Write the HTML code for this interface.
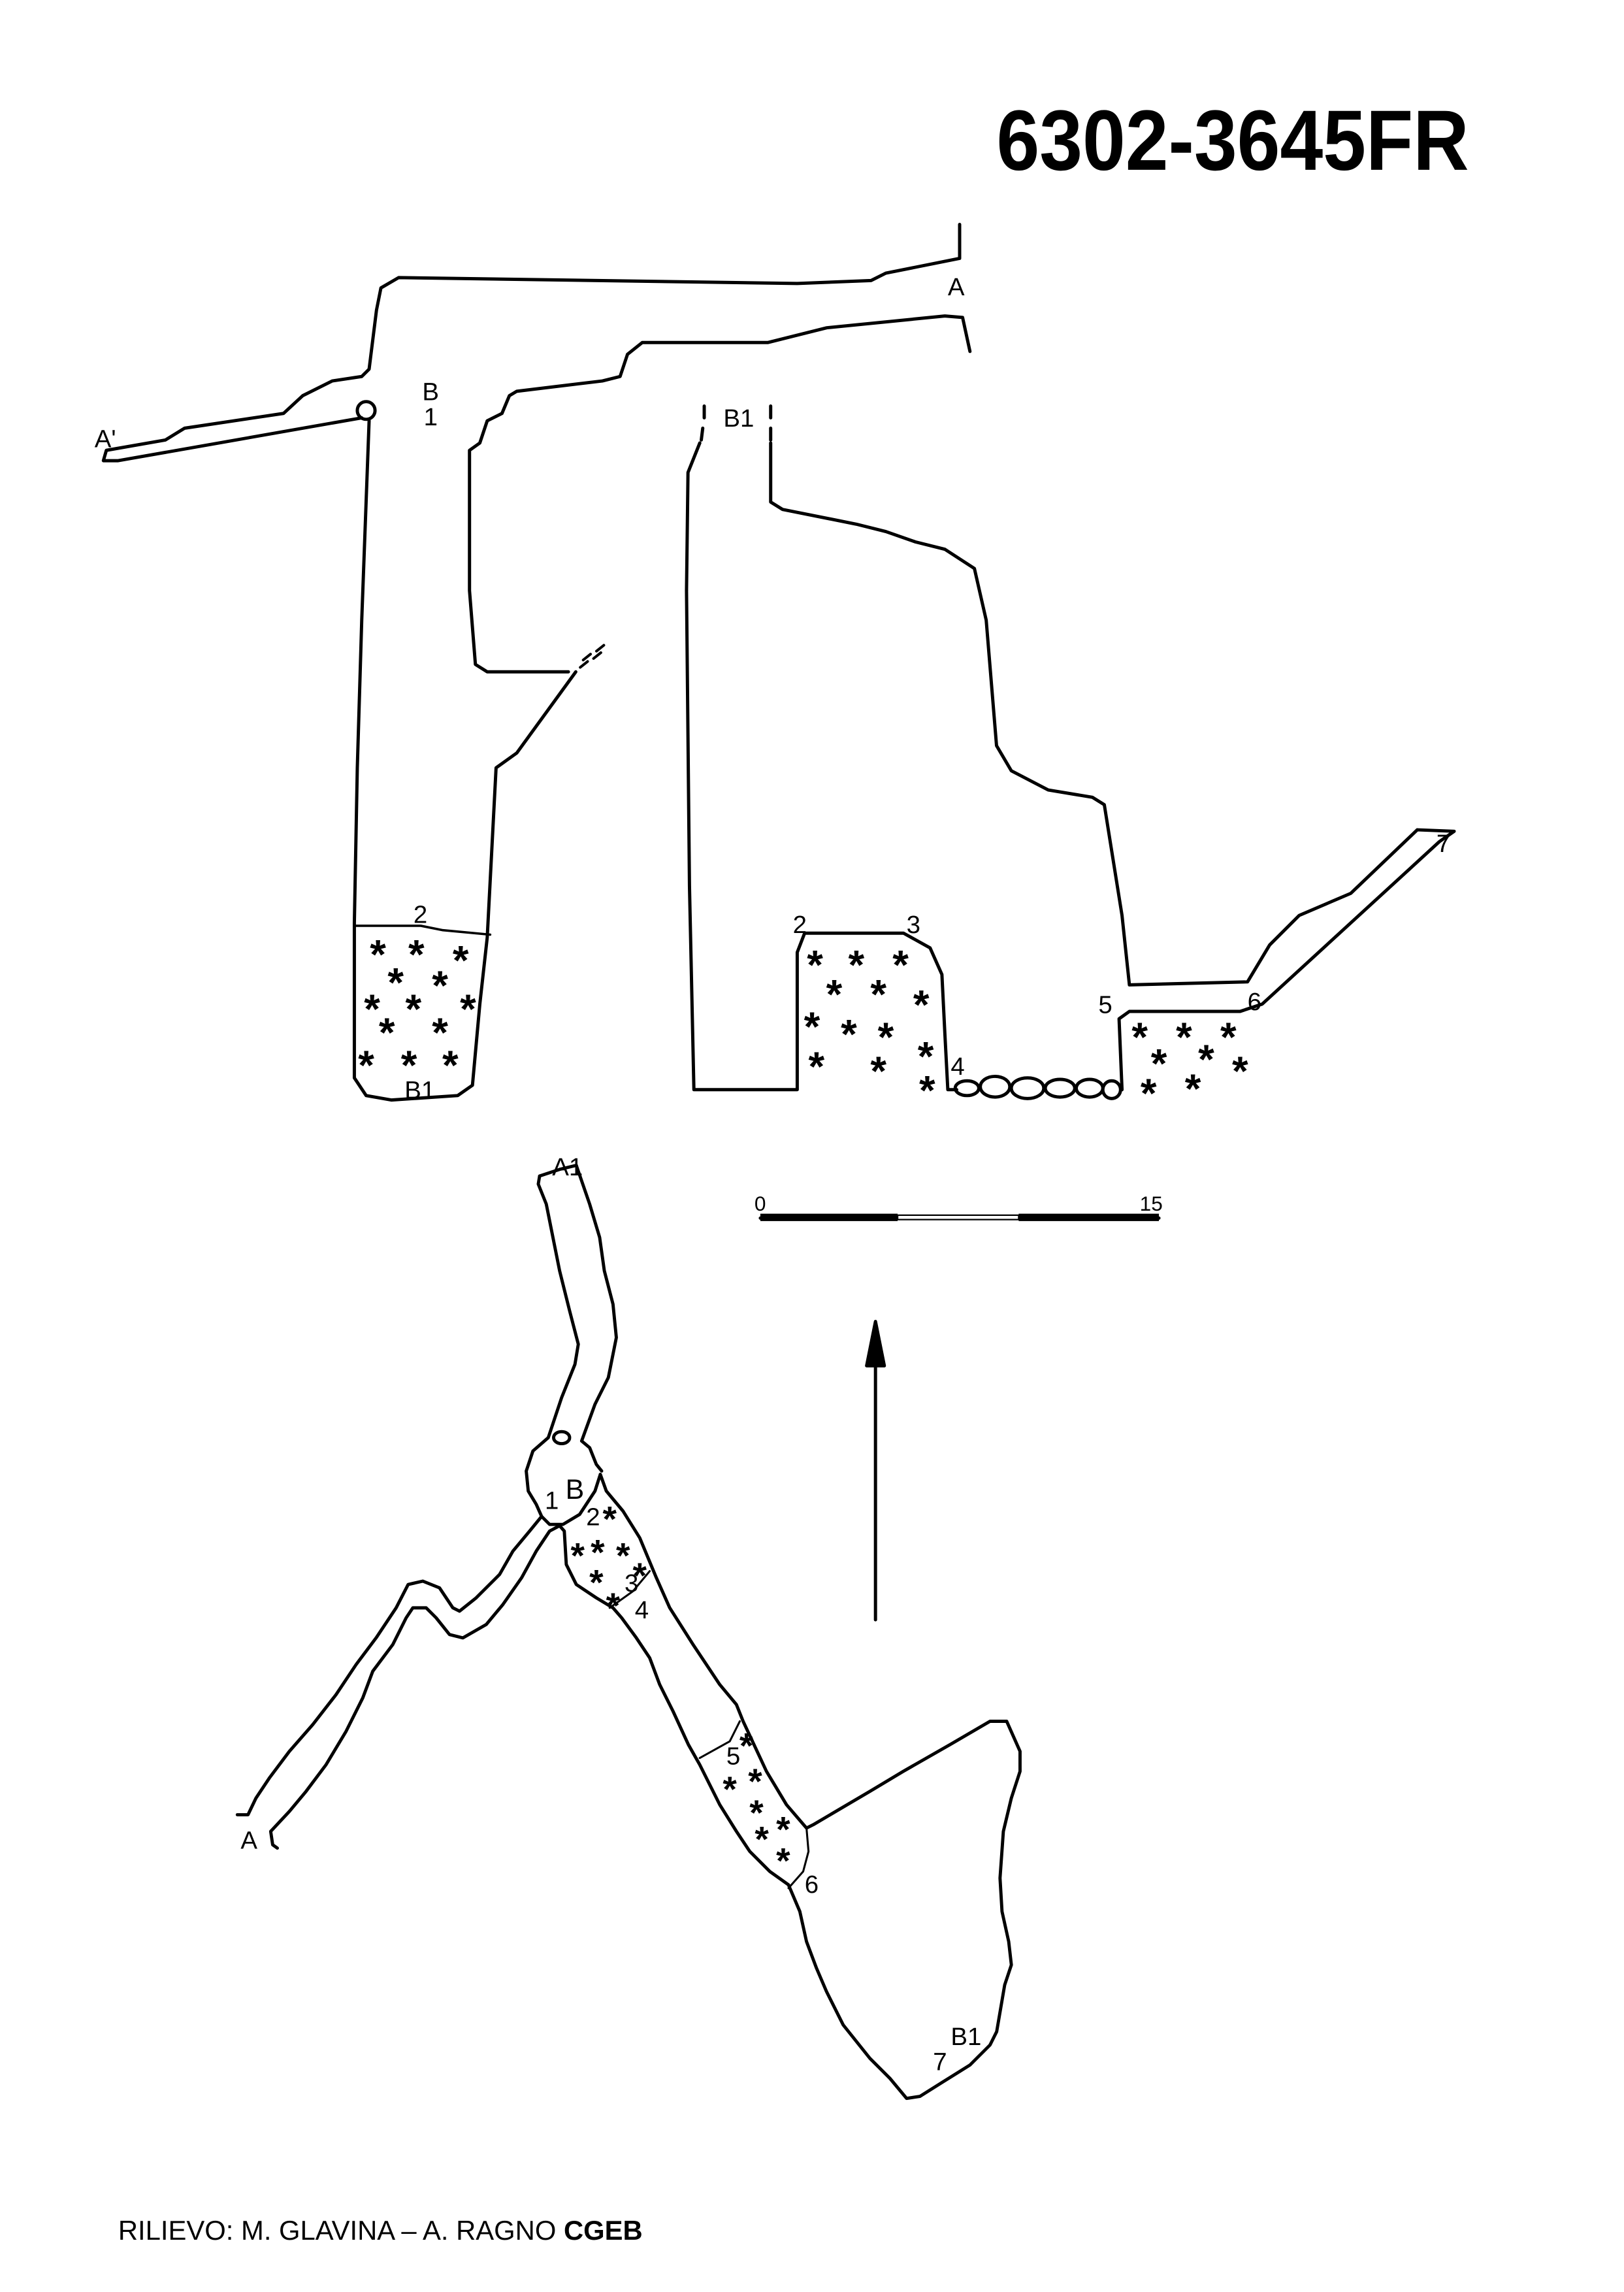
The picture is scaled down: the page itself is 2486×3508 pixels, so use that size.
<!DOCTYPE html>
<html><head><meta charset="utf-8"><style>
html,body{margin:0;padding:0;background:#fff;}
svg{display:block;}
text{font-family:"Liberation Sans",sans-serif;fill:#000;}
.h{font-family:"Liberation Sans",sans-serif;font-size:17px;}
</style></head><body>
<svg width="2486" height="3508" viewBox="0 0 1100 1552.3" xmlns="http://www.w3.org/2000/svg">
<rect width="1100" height="1552.3" fill="#fff"/>
<text x="675" y="115" font-size="58" font-weight="bold" textLength="320" lengthAdjust="spacingAndGlyphs">6302-3645FR</text>

<g fill="none" stroke="#000" stroke-width="2.2" stroke-linejoin="round" stroke-linecap="round">
<!-- left profile -->
<path d="M650,152 L650,175 L600,185 L590,190 L540,192 L270,188 L258,195 L255,210 L250,250 L245,255 L225,258 L205,268 L192,280 L125,290 L112,298 L72,305 L70,312 L80,312 L245,283"/>
<circle cx="248" cy="278" r="6"/>
<path d="M250,285 L245,420 L242,520 L240,625 L240,730 L248,742 L265,745 L310,742 L320,735 L325,680 L330,635 L336,520 L350,510 L390,455"/>
<path d="M657,238 L652,215 L640,214 L560,222 L520,232 L435,232 L425,240 L420,255 L408,258 L350,265 L345,268 L340,280 L330,285 L325,300 L318,305 L318,400 L322,450 L330,455 L385,455"/>
<path d="M393,452 L398,448 M402,446 L407,442 M395,447 L400,443 M404,441 L409,437" stroke-width="1.8"/>
<path d="M240,627 L285,627 L300,630 L332,633" stroke-width="1.6"/>

<!-- middle profile -->
<path d="M477,275 L477,283 M476,290 L475,298"/>
<path d="M522,275 L522,283 M522,290 L522,298"/>
<path d="M474,300 L466,320 L465,400 L467,600 L470,738 L540,738 L540,645 L545,632 L612,632 L630,642 L638,660 L640,700 L642,738 L648,738"/>
<path d="M760,738 L758,690 L765,685 L840,685 L855,680 L975,570 L985,563 L960,562 L915,605 L880,620 L860,640 L845,665 L765,667 L760,620 L748,545 L740,540 L710,535 L685,522 L675,505 L668,420 L660,385 L640,372 L620,367 L600,360 L580,355 L530,345 L522,340 L522,300"/>
<ellipse cx="655" cy="737" rx="8" ry="5"/>
<ellipse cx="674" cy="736" rx="10" ry="7"/>
<ellipse cx="696" cy="737" rx="11" ry="7"/>
<ellipse cx="718" cy="737" rx="10" ry="6"/>
<ellipse cx="738" cy="737" rx="9" ry="6"/>
<ellipse cx="753" cy="738" rx="6" ry="6"/>

<!-- scale bar -->
<path d="M515,825 L785,825"/>
<rect x="515" y="822" width="93" height="5" fill="#000" stroke="none"/>
<rect x="690" y="822" width="95" height="5" fill="#000" stroke="none"/>
<rect x="608" y="823" width="82" height="3" fill="#fff" stroke="#000" stroke-width="1"/>

<!-- north arrow -->
<path d="M593,1097 L593,905"/>
<path d="M587,925 L593,895 L599,925 Z" fill="#000"/>

<!-- plan -->
<g transform="translate(132.7,752.2) scale(0.452)" stroke-width="4.8">
<path d="M515,98 L545,88 L570,82"/>
<path d="M515,98 L513,110 L525,140 L545,240 L560,300 L573,350 L568,380 L548,430 L528,490 L505,510 L495,540 L498,570 L510,590 L518,608 L530,620 L550,620 L575,605 L598,570 L606,545"/>
<path d="M570,82 L590,140 L605,190 L612,240 L625,290 L630,340 L618,400 L598,440 L578,495 L590,505 L600,530 L608,540"/>
<ellipse cx="548" cy="490" rx="12" ry="9"/>
<path d="M606,545 L615,570 L640,600 L665,640 L690,700 L710,745 L745,800 L785,860 L810,890 L820,915 L855,990 L885,1040 L915,1075 L925,1070 L1010,1020 L1060,990 L1130,950 L1190,915 L1215,915 L1235,960 L1235,990 L1222,1030 L1210,1080 L1205,1150 L1208,1200 L1218,1245 L1222,1280 L1212,1310 L1200,1380 L1190,1400 L1160,1430 L1120,1455 L1085,1477 L1065,1480 L1040,1450 L1010,1420 L970,1370 L945,1320 L930,1285 L915,1245 L905,1200 L888,1160 L860,1140 L830,1110 L810,1080 L785,1040 L755,980 L738,950 L715,900 L695,860 L680,820 L660,790 L638,760 L625,745 L600,730 L570,710 L555,680 L552,630 L545,622"/>
<path d="M518,608 L500,630 L475,660 L455,695 L420,730 L395,750 L385,745 L365,715 L340,705 L318,710 L300,745 L270,790 L240,830 L210,875 L175,920 L140,960 L110,1000 L90,1030 L78,1055 L62,1055"/>
<path d="M545,622 L530,630 L510,660 L488,700 L460,740 L435,770 L400,790 L380,785 L360,760 L345,745 L325,745 L315,760 L295,800 L265,840 L250,880 L225,930 L195,980 L165,1020 L140,1050 L112,1080 L115,1100 L122,1105"/>
<path d="M620,745 L655,720 L680,690" stroke-width="3"/>
<path d="M755,970 L800,945 L815,915" stroke-width="3"/>
<path d="M888,1165 L910,1140 L918,1110 L915,1075" stroke-width="3"/>
</g>
</g>

<!-- asterisks -->
<g font-size="28" text-anchor="middle" font-weight="bold">
<text x="256" y="656">*</text><text x="282" y="656">*</text><text x="312" y="660">*</text>
<text x="268" y="675">*</text><text x="298" y="677">*</text>
<text x="252" y="693">*</text><text x="280" y="693">*</text><text x="317" y="693">*</text>
<text x="262" y="709">*</text><text x="298" y="709">*</text>
<text x="248" y="731">*</text><text x="277" y="731">*</text><text x="305" y="731">*</text>

<text x="552" y="663">*</text><text x="580" y="663">*</text><text x="610" y="663">*</text>
<text x="565" y="683">*</text><text x="595" y="683">*</text><text x="624" y="690">*</text>
<text x="550" y="705">*</text><text x="575" y="710">*</text><text x="600" y="712">*</text><text x="627" y="725">*</text>
<text x="553" y="732">*</text><text x="595" y="735">*</text><text x="628" y="748">*</text>

<text x="772" y="712">*</text><text x="802" y="712">*</text><text x="832" y="712">*</text>
<text x="785" y="730">*</text><text x="817" y="727">*</text><text x="840" y="735">*</text>
<text x="778" y="750">*</text><text x="808" y="747">*</text>
</g>
<g text-anchor="middle" font-weight="bold" transform="translate(132.7,752.2) scale(0.452)" font-size="54">
<text x="620" y="630">*</text><text x="572" y="685">*</text><text x="602" y="680">*</text><text x="640" y="685">*</text>
<text x="600" y="725">*</text><text x="665" y="715">*</text><text x="625" y="760">*</text>
<text x="825" y="970">*</text><text x="800" y="1035">*</text><text x="838" y="1023">*</text>
<text x="840" y="1070">*</text><text x="880" y="1095">*</text><text x="848" y="1110">*</text><text x="880" y="1142">*</text>
</g>

<!-- labels -->
<g class="h">
<text x="642" y="200">A</text>
<text x="286" y="271">B</text>
<text x="287" y="288">1</text>
<text x="490" y="289">B1</text>
<text x="64" y="303">A'</text>
<text x="280" y="625">2</text>
<text x="274" y="744">B1</text>
<text x="537" y="632">2</text>
<text x="614" y="632">3</text>
<text x="644" y="728">4</text>
<text x="744" y="686">5</text>
<text x="845" y="684">6</text>
<text x="973" y="577">7</text>
<text x="511" y="820" font-size="14">0</text>
<text x="772" y="820" font-size="14">15</text>
<text x="374" y="796">A1</text>
<text x="163" y="1252">A</text>
<text x="369" y="1022">1</text>
<text x="383" y="1015" font-size="19">B</text>
<text x="397" y="1033">2</text>
<text x="423" y="1078">3</text>
<text x="430" y="1096">4</text>
<text x="492" y="1195">5</text>
<text x="545" y="1282">6</text>
<text x="644" y="1385">B1</text>
<text x="632" y="1402">7</text>
</g>

<text x="80" y="1517" font-size="18.5">RILIEVO: M. GLAVINA – A. RAGNO <tspan font-weight="bold">CGEB</tspan></text>
</svg>
</body></html>
